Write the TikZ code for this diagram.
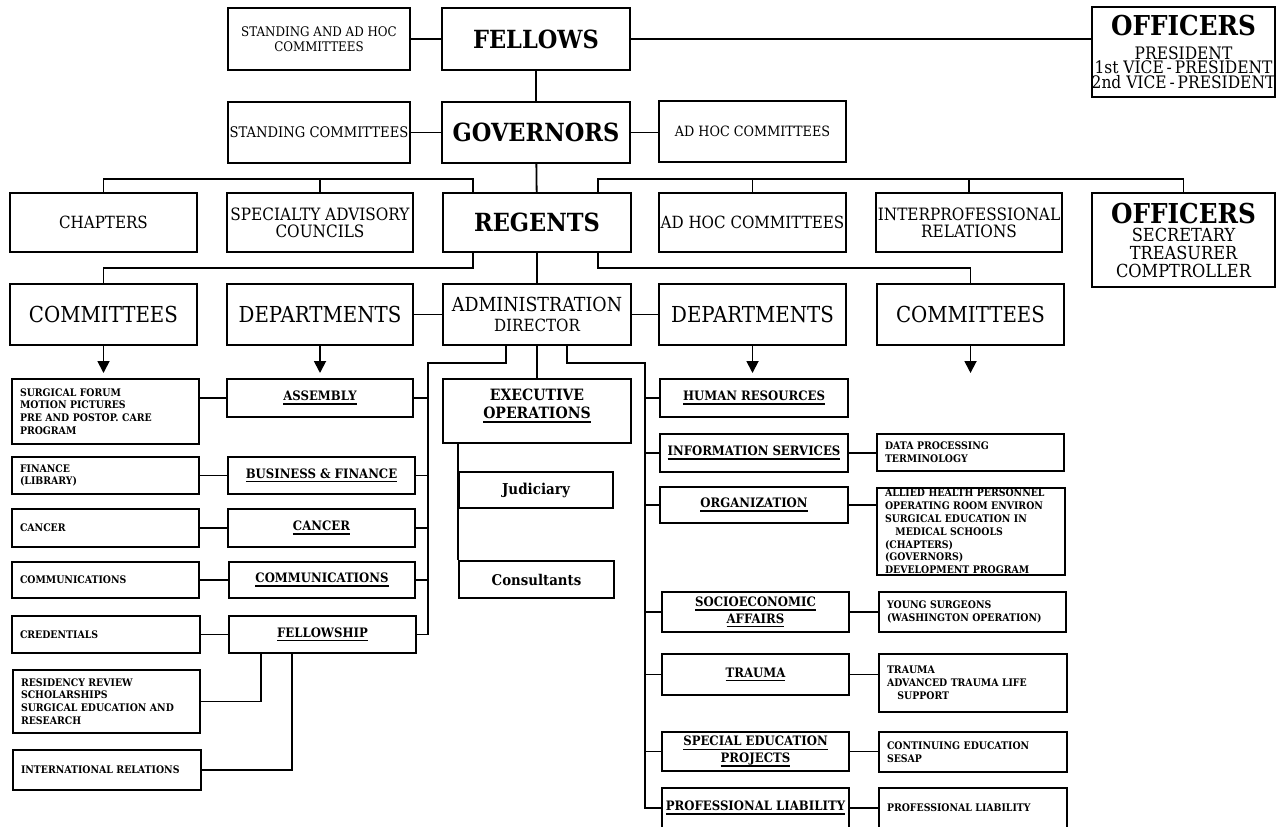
\documentclass[tikz,border=0pt]{standalone}
\usepackage{fontspec}
\setmainfont{DejaVu Serif}[FakeStretch=0.9]
\usetikzlibrary{arrows.meta,calc}

\newcommand\fs[2]{\fontsize{#1}{#2}\selectfont}
\newcommand\nohyph{\hyphenpenalty10000\relax\exhyphenpenalty10000\relax}
% underlined department title
\newcommand\uln[1]{\setbox0=\hbox{#1}\rlap{\rule[-2.1pt]{\wd0}{0.8pt}}\box0}

\tikzset{
  box/.style={draw, line width=0.9pt, inner sep=0pt, align=center},
  lbox/.style={draw, line width=0.9pt, inner xsep=4pt, inner ysep=0pt, align=left,
               font=\bfseries\fs{5.2}{6.4}\nohyph},
  head/.style={font=\bfseries\fs{12.5}{14}},
  big/.style={font=\fs{11}{12}},
  dept/.style={font=\bfseries\fs{6.5}{8.3}},
  link/.style={line width=0.9pt},
  arr/.style={line width=0.9pt, -{Triangle[width=6pt,length=6pt]}},
}

% centred box given by its corners (x1,y1)-(x2,y2)
\newcommand\obox[7][]{%
  \pgfmathsetmacro\bxw{(#5-#3)*0.5}\pgfmathsetmacro\bxh{(#6-#4)*0.5}%
  \pgfmathsetmacro\bxx{(#3+#5)/2}\pgfmathsetmacro\bxy{(#4+#6)/2}%
  \node[box,#1,minimum width=\bxw pt,minimum height=\bxh pt] (#2) at (\bxx,\bxy) {#7};}
% list box with left-aligned lines
\newcommand\lbx[6]{%
  \pgfmathsetmacro\bxw{(#4-#2)*0.5-8}\pgfmathsetmacro\bxh{(#5-#3)*0.5}%
  \pgfmathsetmacro\bxx{(#2+#4)/2}\pgfmathsetmacro\bxy{(#3+#5)/2}%
  \node[lbox,text width=\bxw pt,minimum height=\bxh pt] (#1) at (\bxx,\bxy) {#6};}

\begin{document}
\begin{tikzpicture}[x=0.5pt,y=-0.5pt]
\useasboundingbox (0,0) rectangle (1277,826);
\clip (0,0) rectangle (1277,826);

% ---- fellows and governors
\obox[font=\fs{6.6}{7.5}]{sah}{228}{8}{410}{70}{STANDING AND AD HOC\\COMMITTEES}
\obox[head]{fellows}{442}{8}{630}{70}{FELLOWS}
\obox[font=\fs{8.6}{7.3}]{off1}{1092}{7}{1275}{97}{{\bfseries\fs{13.7}{14}OFFICERS}\\[4.4pt]PRESIDENT\\1st VICE\,-\,PRESIDENT\\2nd VICE\,-\,PRESIDENT}
\obox[font=\fs{7.3}{8}]{stdcom}{228}{102}{410}{163}{STANDING COMMITTEES}
\obox[head]{gov}{442}{102}{630}{163}{GOVERNORS}
\obox[font=\fs{7.1}{8}]{adhoc1}{659}{101}{846}{162}{AD HOC COMMITTEES}

% ---- regents row
\obox[font=\fs{8.4}{8.5}]{chap}{10}{193}{197}{252}{CHAPTERS}
\obox[font=\fs{8.5}{8.6}]{sac}{227}{193}{413}{252}{SPECIALTY ADVISORY\\COUNCILS}
\obox[head]{reg}{443}{193}{631}{252}{REGENTS}
\obox[font=\fs{8.4}{9}]{adhoc2}{659}{193}{846}{252}{AD HOC COMMITTEES}
\obox[font=\fs{8.5}{8.6}]{inter}{876}{193}{1062}{252}{INTERPROFESSIONAL\\RELATIONS}
\obox[font=\fs{9}{9}]{off2}{1092}{193}{1275}{287}{{\bfseries\fs{13.7}{14}OFFICERS}\\SECRETARY\\TREASURER\\COMPTROLLER}

% ---- administration row
\obox[big]{comL}{10}{284}{197}{345}{COMMITTEES}
\obox[big]{deptL}{227}{284}{413}{345}{DEPARTMENTS}
\obox[font=\fs{9.7}{10}]{admin}{443}{284}{631}{345}{ADMINISTRATION\\{\fs{8.4}{10}DIRECTOR}}
\obox[big]{deptR}{659}{284}{846}{345}{DEPARTMENTS}
\obox[big]{comR}{877}{284}{1064}{345}{COMMITTEES}

% ---- left departments and their committees
\obox[dept]{assembly}{227}{379}{413}{417}{\uln{ASSEMBLY}}
\obox[dept]{business}{228}{457}{415}{494}{\uln{BUSINESS \& FINANCE}}
\obox[dept]{cancer}{228}{509}{415}{547}{\uln{CANCER}}
\obox[dept]{comm}{229}{562}{415}{598}{\uln{COMMUNICATIONS}}
\obox[dept]{fellowship}{229}{616}{416}{653}{\uln{FELLOWSHIP}}
\lbx{surg}{12}{379}{199}{444}{SURGICAL FORUM\\MOTION PICTURES\\PRE AND POSTOP. CARE\\PROGRAM}
\lbx{fin}{12}{457}{199}{494}{FINANCE\\(LIBRARY)}
\lbx{cancs}{12}{509}{199}{547}{CANCER}
\lbx{comms}{12}{562}{199}{598}{COMMUNICATIONS}
\lbx{cred}{12}{616}{200}{653}{CREDENTIALS}
\lbx{resid}{13}{670}{200}{733}{RESIDENCY REVIEW\\SCHOLARSHIPS\\SURGICAL EDUCATION AND\\RESEARCH}
\lbx{intl}{13}{750}{201}{790}{INTERNATIONAL RELATIONS}

% ---- executive operations
\obox[font=\bfseries\fs{7.8}{9}]{exec}{443}{379}{631}{443}{EXECUTIVE\\\uln{OPERATIONS}\rule[-7pt]{0pt}{1pt}}
\obox[font=\bfseries\fs{7.5}{8}]{jud}{459}{472}{613}{508}{Judiciary}
\obox[font=\bfseries\fs{7.4}{8}]{cons}{459}{561}{614}{598}{Consultants}

% ---- right departments and their committees
\obox[dept]{hr}{660}{379}{848}{417}{\uln{HUMAN RESOURCES}}
\obox[dept]{info}{660}{434}{848}{472}{\uln{INFORMATION SERVICES}}
\obox[dept]{org}{660}{487}{848}{523}{\uln{ORGANIZATION}}
\obox[dept]{socio}{662}{592}{849}{632}{\uln{SOCIOECONOMIC}\\\uln{AFFAIRS}}
\obox[dept]{trauma}{662}{654}{849}{695}{\uln{TRAUMA}}
\obox[dept]{special}{662}{732}{849}{771}{\uln{SPECIAL EDUCATION}\\\uln{PROJECTS}}
\obox[dept]{prof}{662}{788}{849}{828}{\uln{PROFESSIONAL LIABILITY}}
\lbx{datap}{877}{434}{1064}{471}{DATA PROCESSING\\TERMINOLOGY}
\lbx{allied}{877}{488}{1065}{575}{ALLIED HEALTH PERSONNEL\\OPERATING ROOM ENVIRON\\SURGICAL EDUCATION IN\\\hspace*{1em}MEDICAL SCHOOLS\\(CHAPTERS)\\(GOVERNORS)\\DEVELOPMENT PROGRAM}
\lbx{young}{879}{592}{1066}{632}{YOUNG SURGEONS\\(WASHINGTON OPERATION)}
\lbx{traumas}{879}{654}{1067}{712}{TRAUMA\\ADVANCED TRAUMA LIFE\\\hspace*{1em}SUPPORT}
\lbx{contin}{879}{732}{1067}{772}{CONTINUING EDUCATION\\SESAP}
\lbx{profs}{879}{788}{1067}{828}{PROFESSIONAL LIABILITY}

% ---- junction points
\coordinate (busL) at (473,179);
\coordinate (busR) at (598,179);
\coordinate (bus2L) at (473,268);
\coordinate (bus2R) at (598,268);
\coordinate (ltop) at (428,363);
\coordinate (rtop) at (645,363);
\coordinate (tip1) at (103.5,373);
\coordinate (tip2) at (320,373);
\coordinate (tip3) at (752.5,373);
\coordinate (tip4) at (970.5,373);

% ---- connectors
\draw[link] (sah) -- (fellows);
\draw[link] (fellows.east) -- (fellows.east -| off1.west);
\draw[link] (fellows) -- (gov);
\draw[link] (stdcom) -- (gov);
\draw[link] (gov.east) -- (gov.east -| adhoc1.west);
\draw[link] (gov) -- (reg);

\draw[link] (busL |- reg.north) -- (busL) -| (chap.north);
\draw[link] (sac.north) -- (sac.north |- busL);
\draw[link] (busR |- reg.north) -- (busR) -| (off2.north);
\draw[link] (adhoc2.north) -- (adhoc2.north |- busR);
\draw[link] (inter.north) -- (inter.north |- busR);

\draw[link] (bus2L |- reg.south) -- (bus2L) -| (comL.north);
\draw[link] (bus2R |- reg.south) -- (bus2R) -| (comR.north);
\draw[link] (reg) -- (admin);
\draw[link] (deptL) -- (admin);
\draw[link] (admin) -- (deptR);

\draw[arr] (comL.south) -- (tip1);
\draw[arr] (deptL.south) -- (tip2);
\draw[arr] (deptR.south) -- (tip3);
\draw[arr] (comR.south) -- (tip4);

\draw[link] (506,0 |- admin.south) |- (ltop) |- (fellowship.east);
\draw[link] (567,0 |- admin.south) |- (rtop) |- (prof.west);
\draw[link] (admin) -- (exec);
\draw[link] (jud.north west |- exec.south) -- (cons.north west);

\foreach \n in {assembly,business,cancer,comm}
  \draw[link] (\n.east) -- (\n.east -| ltop);
\foreach \n in {hr,info,org,socio,trauma,special}
  \draw[link] (\n.west) -- (\n.west -| rtop);
\foreach \a/\b in {assembly/surg,business/fin,cancer/cancs,comm/comms,fellowship/cred}
  \draw[link] (\a.west) -- (\a.west -| \b.east);
\foreach \a/\b in {info/datap,org/allied,socio/young,trauma/traumas,special/contin,prof/profs}
  \draw[link] (\a.east) -- (\a.east -| \b.west);

\draw[link] (261,0 |- fellowship.south) |- (resid.east);
\draw[link] (292,0 |- fellowship.south) |- (intl.east);
\end{tikzpicture}
\end{document}
